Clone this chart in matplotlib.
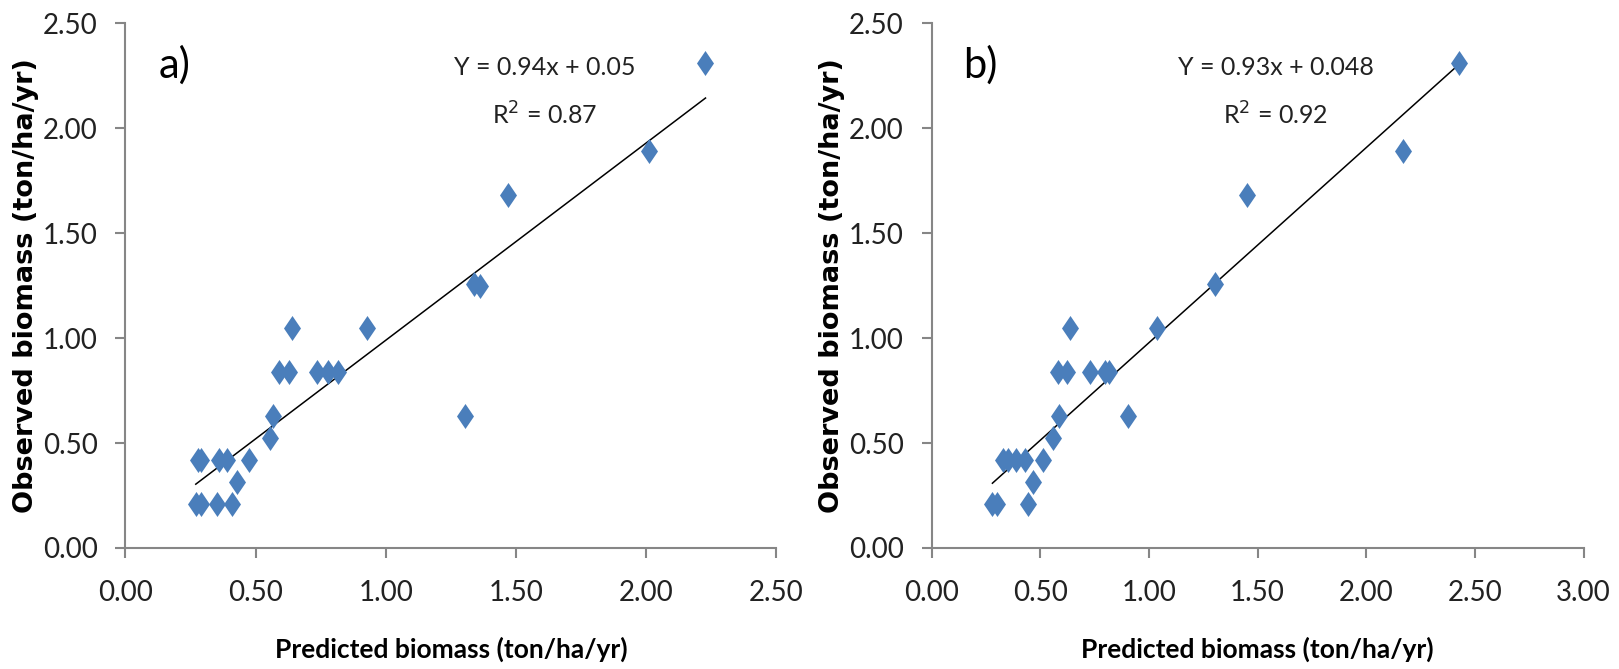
import matplotlib
matplotlib.use("Agg")
import matplotlib.pyplot as plt
import numpy as np

# panel a) predicted vs observed
pred_a = [0.27, 0.29, 0.35, 0.41, 0.28, 0.29, 0.36, 0.39, 0.43, 0.475, 0.557, 0.565,
          0.59, 0.63, 0.734, 0.779, 0.817, 0.638, 0.926, 1.304, 1.34, 1.36, 1.471, 2.01, 2.228]
obs_a = [0.21, 0.21, 0.21, 0.21, 0.42, 0.42, 0.42, 0.42, 0.315, 0.42, 0.525, 0.63,
         0.84, 0.84, 0.84, 0.84, 0.84, 1.05, 1.05, 0.63, 1.26, 1.25, 1.68, 1.89, 2.31]

# panel b)
pred_b = [0.28, 0.30, 0.442, 0.33, 0.35, 0.39, 0.43, 0.514, 0.468, 0.56, 0.588,
          0.583, 0.622, 0.729, 0.798, 0.818, 0.637, 1.036, 0.905, 1.305, 1.45, 2.171, 2.428]
obs_b = [0.21, 0.21, 0.21, 0.42, 0.42, 0.42, 0.42, 0.42, 0.315, 0.525, 0.63,
         0.84, 0.84, 0.84, 0.84, 0.84, 1.05, 1.05, 0.63, 1.26, 1.68, 1.89, 2.31]

fits = [(0.94, 0.05, "0.87", "Y = 0.94x + 0.05"), (0.93, 0.048, "0.92", "Y = 0.93x + 0.048")]
xlims = [2.5, 3.0]
letters = ["a)", "b)"]
eq_x = [0.644, 0.528]  # where the equation sits in each panel

narrow = ["Lato", "DejaVu Sans"]
blue = "#4A7EBB"
grey = "#868686"
diamond = [(0, 1), (0.68, 0), (0, -1), (-0.68, 0)]

fig = plt.figure(figsize=(16.19, 6.69), dpi=100)
ax_a = fig.add_axes([0.0775, 0.181, 0.402, 0.784])
ax_b = fig.add_axes([0.5754, 0.181, 0.4027, 0.784])

for ax, px, ob, (m, c, r2, eq), xmax, lt, ex in zip([ax_a, ax_b], [pred_a, pred_b], [obs_a, obs_b],
                                                  fits, xlims, letters, eq_x):
    ax.scatter(px, ob, marker=diamond, s=18**2, color=blue, linewidths=0, zorder=3)
    xs = np.array([min(px), max(px)])
    ax.plot(xs, m * xs + c, color="black", lw=1.1, zorder=2)

    ax.set_xlim(0, xmax)
    ax.set_ylim(0, 2.5)
    ax.set_xticks(np.arange(0, xmax + 0.01, 0.5))
    ax.set_yticks(np.arange(0, 2.51, 0.5))
    ax.xaxis.set_major_formatter(matplotlib.ticker.FormatStrFormatter("%.2f"))
    ax.yaxis.set_major_formatter(matplotlib.ticker.FormatStrFormatter("%.2f"))
    for s in ["top", "right"]:
        ax.spines[s].set_visible(False)
    for s in ["left", "bottom"]:
        ax.spines[s].set_color(grey)
        ax.spines[s].set_linewidth(1.5)
    ax.tick_params(axis="x", direction="out", length=7, width=1.5, color=grey, pad=16)
    ax.tick_params(axis="y", direction="out", length=7, width=1.5, color=grey, pad=13)
    for lab in ax.get_xticklabels() + ax.get_yticklabels():
        lab.set_family(narrow)
        lab.set_fontsize(20)
        lab.set_color("#222222")

    ax.set_xlabel("Predicted biomass (ton/ha/yr)", family=narrow, fontweight="bold",
                  fontsize=19, labelpad=22)
    ax.set_ylabel("Observed biomass (ton/ha/yr)", family=["DejaVu Sans"],
                  fontweight="bold", fontsize=19.5, labelpad=3)

    ax.text(0.075, 0.92, lt, transform=ax.transAxes, family=narrow, fontsize=30,
            ha="center", va="center")
    ax.text(ex, 0.915, eq, transform=ax.transAxes, family=narrow, fontsize=18,
            ha="center", va="center", color="#222222")
    ax.text(ex, 0.825, "R$^2$ = " + r2, transform=ax.transAxes, family=narrow, fontsize=18,
            ha="center", va="center", color="#222222")

fig.savefig("out.png", dpi=100)
